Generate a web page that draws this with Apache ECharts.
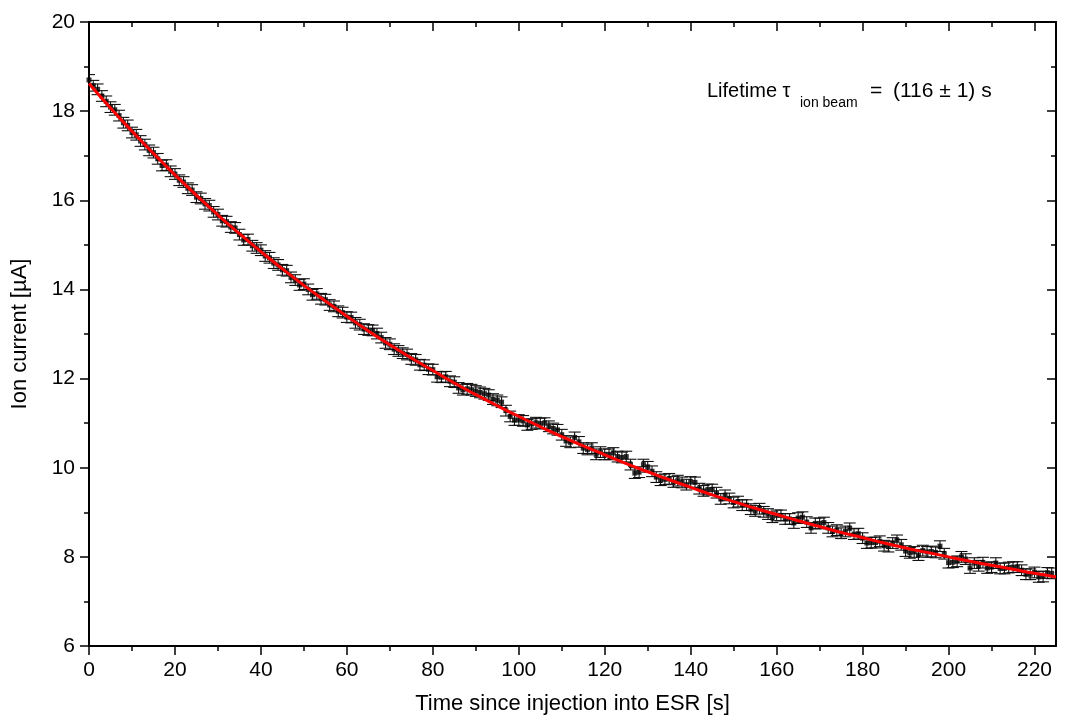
<!DOCTYPE html>
<html>
<head>
<meta charset="utf-8">
<script src="https://cdn.jsdelivr.net/npm/echarts@6/dist/echarts.min.js"></script>
<style>
html,body{margin:0;padding:0;background:#fff;}
#chart{width:1070px;height:724px;}
</style>
</head>
<body>
<div id="chart"></div>
<script>
// Measurement times [s]
const times = [0,1,2,3,4,5,6,7,8,9,10,11,12,13,14,15,16,17,18,19,20,21,22,23,24,25,26,27,28,29,30,31,32,33,34,35,36,37,38,39,40,41,42,43,44,45,46,47,48,49,50,51,52,53,54,55,56,57,58,59,60,61,62,63,64,65,66,67,68,69,70,71,72,73,74,75,76,77,78,79,80,81,82,83,84,85,86,87,88,89,90,91,92,93,94,95,96,97,98,99,100,101,102,103,104,105,106,107,108,109,110,111,112,113,114,115,116,117,118,119,120,121,122,123,124,125,126,127,128,129,130,131,132,133,134,135,136,137,138,139,140,141,142,143,144,145,146,147,148,149,150,151,152,153,154,155,156,157,158,159,160,161,162,163,164,165,166,167,168,169,170,171,172,173,174,175,176,177,178,179,180,181,182,183,184,185,186,187,188,189,190,191,192,193,194,195,196,197,198,199,200,201,202,203,204,205,206,207,208,209,210,211,212,213,214,215,216,217,218,219,220,221,222,223,224];
// Measured ion current [µA]
const current = [18.70,18.57,18.49,18.34,18.22,18.09,18.03,17.90,17.74,17.68,
17.52,17.47,17.33,17.25,17.12,17.07,16.93,16.78,16.79,16.65,
16.59,16.45,16.41,16.27,16.23,16.07,16.04,15.92,15.88,15.74,
15.68,15.54,15.52,15.40,15.38,15.23,15.11,15.12,14.98,14.93,
14.88,14.75,14.71,14.59,14.55,14.44,14.42,14.27,14.21,14.10,
14.12,14.00,13.88,13.90,13.79,13.77,13.65,13.62,13.51,13.48,
13.38,13.37,13.25,13.21,13.11,13.09,13.08,13.01,12.92,12.80,
12.77,12.66,12.62,12.57,12.54,12.44,12.42,12.31,12.30,12.21,
12.20,12.04,12.03,12.04,11.94,11.92,11.79,11.75,11.77,11.75,
11.72,11.69,11.66,11.63,11.54,11.51,11.47,11.28,11.15,11.07,
11.07,11.05,10.96,10.98,11.01,10.99,11.00,10.93,10.88,10.85,
10.74,10.60,10.57,10.68,10.58,10.44,10.41,10.44,10.30,10.35,
10.30,10.30,10.33,10.25,10.23,10.25,10.07,9.88,9.90,10.07,
10.02,9.92,9.79,9.72,9.74,9.75,9.68,9.71,9.67,9.62,
9.68,9.67,9.53,9.48,9.51,9.51,9.44,9.30,9.38,9.31,
9.22,9.24,9.16,9.16,9.07,9.03,9.08,9.01,8.96,8.89,
8.93,8.93,8.85,8.85,8.76,8.87,8.89,8.78,8.65,8.75,
8.75,8.77,8.65,8.57,8.60,8.53,8.57,8.64,8.51,8.52,
8.42,8.31,8.32,8.32,8.35,8.25,8.23,8.31,8.37,8.27,
8.13,8.09,8.11,8.04,8.14,8.11,8.12,8.10,8.24,8.07,
7.87,7.88,7.90,8.00,7.95,7.75,7.86,7.80,7.87,7.75,
7.77,7.86,7.74,7.74,7.76,7.77,7.77,7.70,7.61,7.61,
7.65,7.55,7.56,7.64,7.63];
// Half height of each error bar [µA]
const errHalf = 0.12;
// Exponential fit curve
const fitTimes = [0,5,10,15,20,25,30,35,40,45,50,55,60,65,70,75,80,85,90,95,100,105,110,115,120,125,130,135,140,145,150,155,160,165,170,175,180,185,190,195,200,205,210,215,220,225];
const fitValues = [18.62,18.07,17.55,17.05,16.57,16.11,15.67,15.25,14.85,14.46,14.09,13.74,13.40,13.07,12.76,12.46,12.18,11.90,11.64,11.39,11.15,10.92,10.70,10.49,10.29,10.09,9.91,9.73,9.56,9.39,9.24,9.09,8.95,8.81,8.68,8.55,8.43,8.31,8.20,8.10,8.00,7.90,7.81,7.72,7.63,7.55];
// Axis ticks
const xMajorTicks = [0,20,40,60,80,100,120,140,160,180,200,220];
const xMinorTicks = [10,30,50,70,90,110,130,150,170,190,210];
const xTitle = 'Time since injection into ESR [s]';
const yTitle = 'Ion current [µA]';

const FONT = 'Liberation Sans, Arial, sans-serif';
const chart = echarts.init(document.getElementById('chart'), null, {renderer:'canvas'});

const pts = times.map((t,i)=>[t, current[i], errHalf]);
const fit = fitTimes.map((t,i)=>[t, fitValues[i]]);

const lineStyle = {color:'#000', width:2};
function xAx(pos, custom, len, inside, showLine, showLabel, name){
  return {
    type:'value', position:pos, min:0, max:225,
    axisLine:{show:showLine, onZero:false, lineStyle},
    axisTick:{show:true, inside:inside, length:len, customValues:custom, lineStyle:{color:'#000', width:1.5}},
    axisLabel:{show:showLabel, customValues:custom, color:'#000', fontFamily:FONT, fontSize:21, margin:14},
    splitLine:{show:false},
    name: name || '', nameLocation:'middle', nameGap:47,
    nameTextStyle:{color:'#000', fontFamily:FONT, fontSize:22}
  };
}
function yAx(pos, inside, showLabel, name){
  return {
    type:'value', position:pos, min:6, max:20, interval:2,
    axisLine:{show:true, onZero:false, lineStyle},
    axisTick:{show:true, inside:inside, length:9, lineStyle:{color:'#000', width:1.5}},
    minorTick:{show:true, splitNumber:2, length:5, lineStyle:{color:'#000', width:1.5}},
    axisLabel:{show:showLabel, color:'#000', fontFamily:FONT, fontSize:21, margin:14},
    splitLine:{show:false}, minorSplitLine:{show:false},
    name: name || '', nameLocation:'middle', nameGap:58,
    nameTextStyle:{color:'#000', fontFamily:FONT, fontSize:22}
  };
}

const option = {
  backgroundColor:'#fff',
  animation:false,
  grid:{left:89, right:14, top:22, bottom:78, containLabel:false},
  xAxis:[
    xAx('bottom', xMajorTicks, 9, false, true, true, xTitle),
    xAx('bottom', xMinorTicks, 5, false, false, false),
    xAx('top', xMajorTicks, 9, true, true, false),
    xAx('top', xMinorTicks, 5, true, false, false)
  ],
  yAxis:[
    yAx('left', false, true, yTitle),
    yAx('right', true, false)
  ],
  graphic:[
    {type:'text', x:707, y:91, style:{text:'Lifetime τ', font:'20px ' + FONT, fill:'#000', verticalAlign:'middle'}},
    {type:'text', x:800, y:103, style:{text:'ion beam', font:'14px ' + FONT, fill:'#000', verticalAlign:'middle'}},
    {type:'text', x:870, y:91, style:{text:'=', font:'21px ' + FONT, fill:'#000', verticalAlign:'middle'}},
    {type:'text', x:893, y:91, style:{text:'(116 ± 1) s', font:'21px ' + FONT, fill:'#000', verticalAlign:'middle'}}
  ],
  series:[
    {
      type:'custom', xAxisIndex:0, yAxisIndex:0, clip:true, z:2,
      data: pts,
      encode:{x:0, y:1},
      renderItem:function(params, api){
        const x = api.value(0), y = api.value(1), e = api.value(2);
        const hi = api.coord([x, y + e]);
        const lo = api.coord([x, y - e]);
        const hw = 6;
        const st = {stroke:'#111', lineWidth:1.1};
        return {type:'group', children:[
          {type:'line', shape:{x1:hi[0], y1:hi[1], x2:lo[0], y2:lo[1]}, style:st},
          {type:'line', shape:{x1:hi[0]-hw, y1:hi[1], x2:hi[0]+hw, y2:hi[1]}, style:st},
          {type:'line', shape:{x1:lo[0]-hw, y1:lo[1], x2:lo[0]+hw, y2:lo[1]}, style:st}
        ]};
      }
    },
    {
      type:'scatter', xAxisIndex:0, yAxisIndex:0, z:3,
      data: pts.map(p=>[p[0], p[1]]),
      symbol:'rect', symbolSize:5,
      itemStyle:{color:'#000'}
    },
    {
      type:'line', xAxisIndex:0, yAxisIndex:0, z:4,
      data: fit, smooth:true, showSymbol:false, symbol:'none',
      lineStyle:{color:'#ff0000', width:3}
    }
  ]
};
chart.setOption(option);
</script>
</body>
</html>
